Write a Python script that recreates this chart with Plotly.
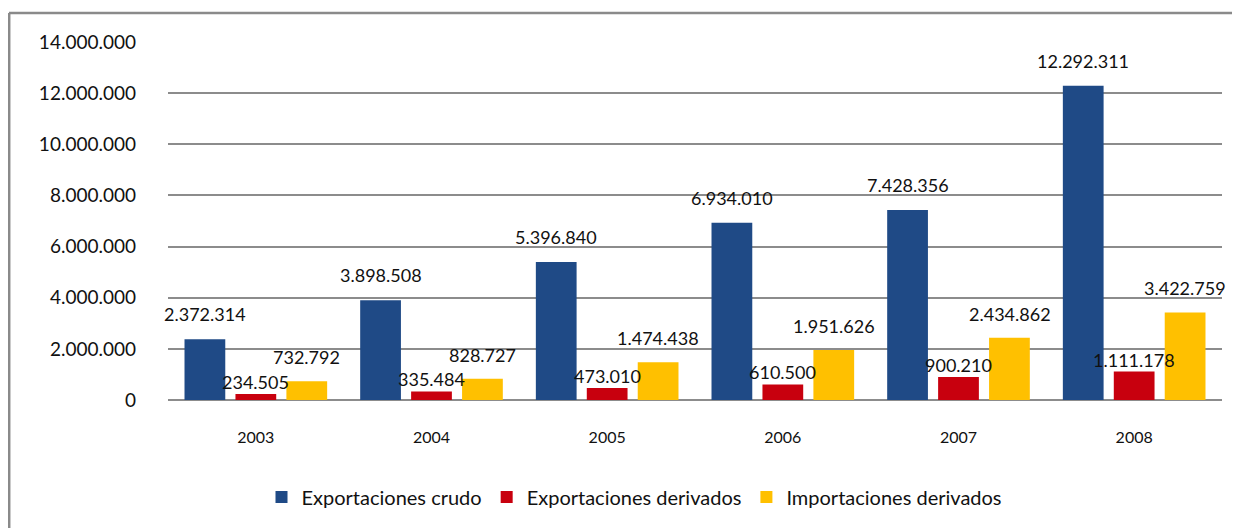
import plotly.graph_objects as go

years = ["2003", "2004", "2005", "2006", "2007", "2008"]
crudo = [2372314, 3898508, 5396840, 6934010, 7428356, 12292311]
deriv_exp = [234505, 335484, 473010, 610500, 900210, 1111178]
deriv_imp = [732792, 828727, 1474438, 1951626, 2434862, 3422759]
series_names = ["Exportaciones crudo", "Exportaciones derivados", "Importaciones derivados"]
colors = ["#1F4A86", "#C8000E", "#FFC000"]

FONT = "Lato"

def fmt(v):
    return f"{v:,}".replace(",", ".")

fig = go.Figure()
for name, vals, col in zip(series_names, [crudo, deriv_exp, deriv_imp], colors):
    fig.add_trace(go.Bar(x=years, y=vals, name=name, marker=dict(color=col, line=dict(width=0))))

# data labels (x given as category index on the category axis)
shifts_x = [-51, 0, 51]
shifts_y = [25, 12, 24]
for vals, sx, sy in zip([crudo, deriv_exp, deriv_imp], shifts_x, shifts_y):
    for i, v in enumerate(vals):
        fig.add_annotation(x=i, y=v, xref="x", yref="y", text=fmt(v), showarrow=False,
                           xshift=sx, yshift=sy, yanchor="middle",
                           font=dict(family=FONT, size=18, color="#111111"))

# outer frame (top and left border of the chart box)
fig.add_shape(type="line", xref="paper", yref="paper", x0=-0.1509, x1=1.1, y0=1.081, y1=1.081,
              line=dict(color="#8a8a8a", width=2.5))
fig.add_shape(type="line", xref="paper", yref="paper", x0=-0.1509, x1=-0.1509, y0=1.081, y1=-0.4,
              line=dict(color="#8a8a8a", width=3))

fig.update_layout(
    width=1240, height=528,
    margin=dict(l=160, r=26, t=34, b=136),
    paper_bgcolor="white", plot_bgcolor="white",
    separators=",.",
    barmode="group", bargap=0.13, bargroupgap=0.2,
    font=dict(family=FONT, size=16, color="#111111"),
    showlegend=True,
    legend=dict(orientation="h", x=0.4426, xanchor="center", y=-0.271, yanchor="middle",
                font=dict(family=FONT, size=20, color="#111111"), traceorder="normal"),
    xaxis=dict(type="category", range=[-0.5, 5.5], showgrid=False, showline=False, ticks="",
               ticklabelstandoff=26, tickfont=dict(size=16)),
    yaxis=dict(range=[0, 14000000], dtick=2000000, tickformat=",d", showgrid=True,
               gridcolor="#8c8c8c", gridwidth=1.5, zeroline=True, zerolinecolor="#8c8c8c",
               zerolinewidth=1.5, showline=False, ticks="", ticklabelstandoff=31,
               tickfont=dict(size=19)),
)

fig.write_html("out.html")
